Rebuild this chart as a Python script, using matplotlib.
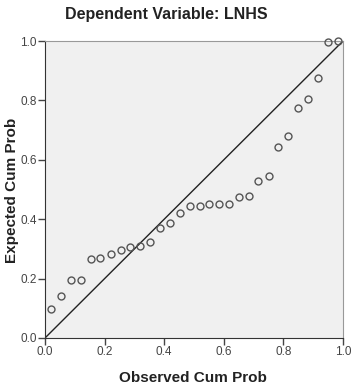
import numpy as np
import matplotlib
matplotlib.use("Agg")
import matplotlib.pyplot as plt

plt.rcParams['font.family'] = ['Liberation Sans', 'DejaVu Sans']

# observed vs expected cumulative probabilities (P-P plot)
observed = [0.020, 0.054, 0.088, 0.121, 0.154, 0.186, 0.220, 0.254, 0.286, 0.320,
            0.352, 0.386, 0.419, 0.452, 0.485, 0.519, 0.551, 0.585, 0.617, 0.651,
            0.684, 0.716, 0.750, 0.782, 0.816, 0.848, 0.882, 0.915, 0.948, 0.982]
expected = [0.097, 0.141, 0.194, 0.194, 0.266, 0.268, 0.284, 0.295, 0.306, 0.311,
            0.322, 0.371, 0.388, 0.420, 0.443, 0.444, 0.450, 0.452, 0.452, 0.476,
            0.477, 0.529, 0.546, 0.643, 0.679, 0.774, 0.804, 0.875, 0.998, 1.000]
ticks = [0.0, 0.2, 0.4, 0.6, 0.8, 1.0]

W, H = 351, 391
fig = plt.figure(figsize=(W/100, H/100), dpi=100)
ax = fig.add_axes([45/W, 1-338/H, (343-45)/W, (338-41)/H])
ax.set_facecolor('#f0f0f0')

ax.plot([0, 1], [0, 1], color='#222222', lw=1.0, zorder=2)
ax.plot(observed, expected, 'o', mfc='none', mec='#555555', mew=1.0, ms=5, zorder=3, clip_on=False)

ax.set_xlim(0, 1)
ax.set_ylim(0, 1)
ax.set_xticks(ticks)
ax.set_yticks(ticks)
ax.set_xticklabels(['%.1f' % t for t in ticks])
ax.set_yticklabels(['%.1f' % t for t in ticks])
ax.tick_params(direction='out', length=5, width=1, color='#444444', labelsize=8.5,
               labelcolor='#444444', pad=1)
for s in ['left', 'bottom']:
    ax.spines[s].set_color('#333333')
for s in ['top', 'right']:
    ax.spines[s].set_color('#999999')

fig.text(166/W, 1-15/H, 'Dependent Variable: LNHS', ha='center', va='center',
         fontsize=11.5, fontweight='bold', color='#222222')
fig.text(193/W, 1-378/H, 'Observed Cum Prob', ha='center', va='center',
         fontsize=11, fontweight='bold', color='#222222')
fig.text(12/W, 1-190/H, 'Expected Cum Prob', ha='center', va='center', rotation=90,
         fontsize=11, fontweight='bold', color='#222222')

fig.savefig('out.png', dpi=100)
